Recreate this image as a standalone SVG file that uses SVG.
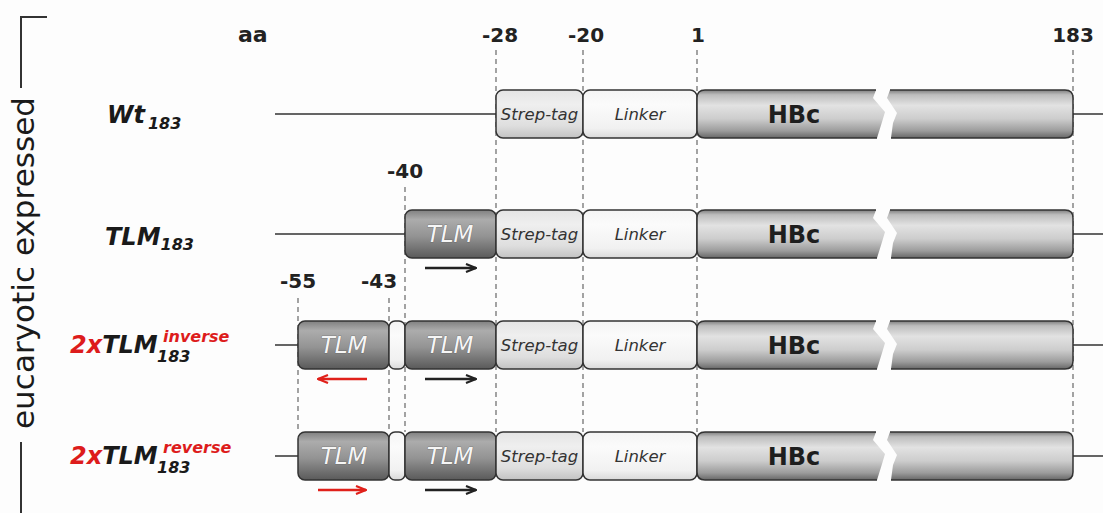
<svg xmlns="http://www.w3.org/2000/svg" width="1103" height="513" viewBox="0 0 1103 513">
  <defs>
    <style>
      .bg { fill: #fdfdfd; }
      .bracket { fill: none; stroke: #333; stroke-width: 2; }
      .axis { font-family: "DejaVu Sans", Verdana, sans-serif; font-size: 31px; fill: #1a1a1a; }
      .pos { font-family: "DejaVu Sans", Verdana, sans-serif; font-weight: bold; font-size: 20px; fill: #222; }
      .name { font-family: "DejaVu Sans", Verdana, sans-serif; font-weight: bold; font-style: italic; font-size: 24px; fill: #1a1a1a; }
      .sub { font-size: 16px; }
      .red { fill: #dd1c1c; }
      .guide { fill: none; stroke: #8c8c8c; stroke-width: 1.6; stroke-dasharray: 5 4; }
      .backbone { fill: none; stroke: #333; stroke-width: 1.6; }
      .box { stroke: #333; stroke-width: 1.5; }
      .tlm { fill: url(#gTlm); }
      .strep { fill: url(#gStrep); }
      .linker { fill: url(#gLinker); }
      .spacer { fill: url(#gLinker); }
      .hbc { fill: url(#gHbc); }
      .hbcEdge { fill: none; stroke: #333; stroke-width: 1.5; }
      .lbl { font-family: "DejaVu Sans", Verdana, sans-serif; font-style: italic; font-size: 16.5px; fill: #333; text-anchor: middle; }
      .tlmTxt { font-family: "DejaVu Sans", Verdana, sans-serif; font-style: italic; font-size: 23px; fill: #f6f6f6; stroke: #5a5a5a; stroke-width: 0.6; paint-order: stroke; text-anchor: middle; }
      .hbcTxt { font-family: "DejaVu Sans", Verdana, sans-serif; font-weight: bold; font-size: 24px; fill: #1e1e1e; text-anchor: middle; }
      .arrowK { fill: none; stroke: #222; stroke-width: 2.4; marker-end: url(#headK); }
      .arrowR { fill: none; stroke: #e0201a; stroke-width: 2.4; marker-end: url(#headR); }
    </style>
    <linearGradient id="gHbc" x1="0" y1="0" x2="0" y2="1">
      <stop offset="0" stop-color="#7e7e7e"/>
      <stop offset="0.1" stop-color="#bdbdbd"/>
      <stop offset="0.32" stop-color="#e2e2e2"/>
      <stop offset="0.6" stop-color="#cdcdcd"/>
      <stop offset="0.85" stop-color="#9c9c9c"/>
      <stop offset="1" stop-color="#676767"/>
    </linearGradient>
    <linearGradient id="gTlm" x1="0" y1="0" x2="0" y2="1">
      <stop offset="0" stop-color="#808080"/>
      <stop offset="0.2" stop-color="#acacac"/>
      <stop offset="0.55" stop-color="#939393"/>
      <stop offset="1" stop-color="#5a5a5a"/>
    </linearGradient>
    <linearGradient id="gStrep" x1="0" y1="0" x2="0" y2="1">
      <stop offset="0" stop-color="#e4e4e4"/>
      <stop offset="0.3" stop-color="#efefef"/>
      <stop offset="0.75" stop-color="#dedede"/>
      <stop offset="1" stop-color="#c2c2c2"/>
    </linearGradient>
    <linearGradient id="gLinker" x1="0" y1="0" x2="0" y2="1">
      <stop offset="0" stop-color="#f4f4f4"/>
      <stop offset="0.3" stop-color="#fbfbfb"/>
      <stop offset="0.8" stop-color="#f1f1f1"/>
      <stop offset="1" stop-color="#d9d9d9"/>
    </linearGradient>
    <marker id="headK" viewBox="0 0 12 10" refX="11" refY="5" markerWidth="12" markerHeight="10" markerUnits="userSpaceOnUse" orient="auto">
      <path d="M1,1 L11,5 L1,9" fill="none" stroke="#222" stroke-width="2.2"/>
    </marker>
    <marker id="headR" viewBox="0 0 12 10" refX="11" refY="5" markerWidth="12" markerHeight="10" markerUnits="userSpaceOnUse" orient="auto">
      <path d="M1,1 L11,5 L1,9" fill="none" stroke="#e0201a" stroke-width="2.2"/>
    </marker>
    <!-- HBc bar with its lightning-shaped break, drawn at top = 0 -->
    <g id="hbcBar">
      <path class="hbc" d="M705,0 H876 L873,8 L885,22 L882,32 L877,48 H705 Q697,48 697,40 V8 Q697,0 705,0 Z"/>
      <path class="hbc" d="M890,0 H1065 Q1073,0 1073,8 V40 Q1073,48 1065,48 H891 L893,33 L897,23 L887,8 Z"/>
      <path class="hbcEdge" d="M876,0 H705 Q697,0 697,8 V40 Q697,48 705,48 H877"/>
      <path class="hbcEdge" d="M890,0 H1065 Q1073,0 1073,8 V40 Q1073,48 1065,48 H891"/>
      <text class="hbcTxt" x="794" y="33">HBc</text>
    </g>
    <g id="tagLinker">
      <rect class="box strep" x="496" y="0" width="87" height="48" rx="7"/>
      <text class="lbl" x="539.5" y="30">Strep-tag</text>
      <rect class="box linker" x="583" y="0" width="114" height="48" rx="7"/>
      <text class="lbl" x="640" y="30">Linker</text>
    </g>
  </defs>

  <rect class="bg" x="0" y="0" width="1103" height="513"/>

  <!-- side bracket and its caption -->
  <g id="bracket">
    <path class="bracket" d="M47,17 H21 V88"/>
    <path class="bracket" d="M21,442 V513"/>
    <text class="axis" transform="translate(34,263) rotate(-90)" text-anchor="middle" textLength="332">eucaryotic expressed</text>
  </g>

  <!-- amino acid positions -->
  <g id="positions">
    <text class="pos" x="238" y="42" style="font-size:22px">aa</text>
    <text class="pos" x="500" y="42" text-anchor="middle">-28</text>
    <text class="pos" x="586" y="42" text-anchor="middle">-20</text>
    <text class="pos" x="698" y="42" text-anchor="middle">1</text>
    <text class="pos" x="1073" y="42" text-anchor="middle">183</text>
    <text class="pos" x="405" y="178" text-anchor="middle">-40</text>
    <text class="pos" x="298" y="288" text-anchor="middle">-55</text>
    <text class="pos" x="379" y="288" text-anchor="middle">-43</text>
  </g>

  <!-- dashed guide lines and backbones -->
  <g id="connectors">
    <path class="guide" d="M496,50 V432 M583,50 V432 M697,50 V432 M1073,50 V432"/>
    <path class="guide" d="M405,187 V432"/>
    <path class="guide" d="M298,298 V432 M389,298 V432"/>
    <path class="backbone" d="M275,114 H496 M1073,114 H1103"/>
    <path class="backbone" d="M275,234 H405 M1073,234 H1103"/>
    <path class="backbone" d="M275,345 H298 M1073,345 H1103"/>
    <path class="backbone" d="M275,456 H298 M1073,456 H1103"/>
  </g>

  <!-- Wt183 -->
  <g id="wt183">
    <text class="name" x="107" y="123">Wt<tspan class="sub" dx="3" dy="6">183</tspan></text>
    <use href="#tagLinker" y="90"/>
    <use href="#hbcBar" y="90"/>
  </g>

  <!-- TLM183 -->
  <g id="tlm183">
    <text class="name" x="105" y="245">TLM<tspan class="sub" dy="5">183</tspan></text>
    <rect class="box tlm" x="405" y="210" width="91" height="48" rx="7"/>
    <text class="tlmTxt" x="450" y="242">TLM</text>
    <use href="#tagLinker" y="210"/>
    <use href="#hbcBar" y="210"/>
    <path class="arrowK" d="M425,268 H476"/>
  </g>

  <!-- 2xTLM183 inverse -->
  <g id="tlm2x-inverse">
    <text class="name" x="70" y="353"><tspan class="red">2x</tspan>TLM</text>
    <text class="name red" x="163" y="342" style="font-size:16px">inverse</text>
    <text class="name" x="157" y="362" style="font-size:16px">183</text>
    <rect class="box tlm" x="298" y="321" width="91" height="48" rx="7"/>
    <text class="tlmTxt" x="344" y="353">TLM</text>
    <rect class="box spacer" x="389" y="321" width="16" height="48" rx="6"/>
    <rect class="box tlm" x="405" y="321" width="91" height="48" rx="7"/>
    <text class="tlmTxt" x="450" y="353">TLM</text>
    <use href="#tagLinker" y="321"/>
    <use href="#hbcBar" y="321"/>
    <path class="arrowR" d="M367,379 H318"/>
    <path class="arrowK" d="M425,379 H476"/>
  </g>

  <!-- 2xTLM183 reverse -->
  <g id="tlm2x-reverse">
    <text class="name" x="70" y="464"><tspan class="red">2x</tspan>TLM</text>
    <text class="name red" x="163" y="453" style="font-size:16px">reverse</text>
    <text class="name" x="157" y="473" style="font-size:16px">183</text>
    <rect class="box tlm" x="298" y="432" width="91" height="48" rx="7"/>
    <text class="tlmTxt" x="344" y="464">TLM</text>
    <rect class="box spacer" x="389" y="432" width="16" height="48" rx="6"/>
    <rect class="box tlm" x="405" y="432" width="91" height="48" rx="7"/>
    <text class="tlmTxt" x="450" y="464">TLM</text>
    <use href="#tagLinker" y="432"/>
    <use href="#hbcBar" y="432"/>
    <path class="arrowR" d="M318,490 H366"/>
    <path class="arrowK" d="M425,490 H476"/>
  </g>
</svg>
